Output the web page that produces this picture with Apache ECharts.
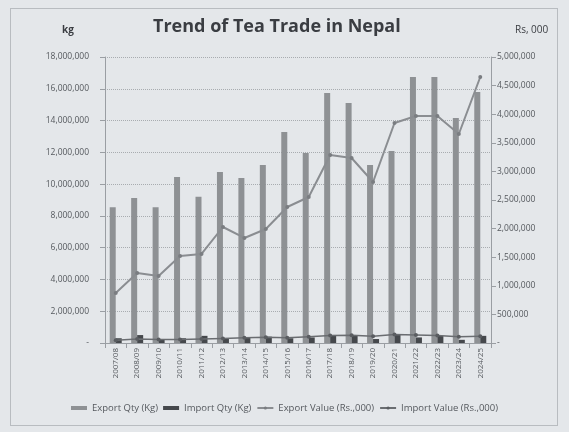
<!DOCTYPE html>
<html><head><meta charset="utf-8">
<script src="https://cdn.jsdelivr.net/npm/echarts@6/dist/echarts.min.js"></script>
<style>
html,body{margin:0;padding:0;background:#e4e7ea;}
#frame{position:absolute;left:10px;top:8px;width:548px;height:418px;border:1px solid #b8bcc0;box-sizing:border-box;}
#c{position:absolute;left:0;top:0;width:569px;height:432px;}
</style></head><body>
<div id="frame"></div>
<div id="c"></div>
<script>
const categories = ['2007/08','2008/09','2009/10','2010/11','2011/12','2012/13','2013/14','2014/15','2015/16','2016/17','2017/18','2018/19','2019/20','2020/21','2021/22','2022/23','2023/24','2024/25'];
const exportQty = [8550000,9120000,8550000,10450000,9200000,10760000,10380000,11200000,13280000,11960000,15730000,15100000,11200000,12080000,16740000,16740000,14160000,15800000];
const importQty = [300000,500000,250000,300000,450000,300000,350000,400000,300000,350000,500000,450000,250000,550000,350000,450000,200000,450000];
const exportValue = [874000,1224000,1171000,1521000,1556000,2028000,1836000,1993000,2378000,2552000,3287000,3234000,2815000,3846000,3969000,3969000,3654000,4650000];
const importValue = [50000,70000,60000,60000,70000,80000,90000,100000,90000,110000,130000,135000,120000,150000,140000,130000,110000,120000];
const leftTicks = {min:0, max:18000000, interval:2000000};
const rightTicks = {min:0, max:5000000, interval:500000};

const fmt = v => v === 0 ? '-' : v.toLocaleString('en-US');
const font = 'Open Sans';
const chart = echarts.init(document.getElementById('c'));
chart.setOption({
  backgroundColor: 'transparent',
  animation: false,
  textStyle: {fontFamily: font},
  title: [
    {text: 'Trend of Tea Trade in Nepal', left: 148, top: 13, textStyle: {fontSize: 18, fontWeight: 'bold', color: '#3a3d42', fontFamily: font}},
    {text: 'kg', left: 57, top: 20, textStyle: {fontSize: 10, fontWeight: 'bold', color: '#3a3d42', fontFamily: font}},
    {text: 'Rs, 000', left: 510, top: 20, textStyle: {fontSize: 10, fontWeight: 'normal', color: '#3a3d42', fontFamily: font}}
  ],
  grid: {left: 105, right: 78, top: 57, bottom: 89},
  legend: {
    bottom: 14, left: 'center', itemGap: 5, itemWidth: 16, itemHeight: 4,
    textStyle: {fontSize: 9.5, color: '#55595e', fontFamily: font},
    data: [
      {name: 'Export Qty (Kg)', icon: 'rect'},
      {name: 'Import Qty (Kg)', icon: 'rect'},
      {name: 'Export Value (Rs.,000)'},
      {name: 'Import Value (Rs.,000)'}
    ]
  },
  xAxis: {
    type: 'category', data: categories,
    axisLine: {lineStyle: {color: '#9a9ea3'}},
    axisTick: {show: true, alignWithLabel: false, lineStyle: {color: '#9a9ea3'}},
    axisLabel: {rotate: 90, fontSize: 8, color: '#55595e', interval: 0, margin: 5}
  },
  yAxis: [
    {type: 'value', min: leftTicks.min, max: leftTicks.max, interval: leftTicks.interval,
     axisLine: {show: true, lineStyle: {color: '#9a9ea3'}},
     axisTick: {show: true, lineStyle: {color: '#9a9ea3'}},
     splitLine: {lineStyle: {color: '#a8acb0', type: 'dotted'}},
     axisLabel: {formatter: fmt, fontSize: 8.5, color: '#55595e', margin: 16}},
    {type: 'value', min: rightTicks.min, max: rightTicks.max, interval: rightTicks.interval,
     axisLine: {show: true, lineStyle: {color: '#9a9ea3'}},
     axisTick: {show: true, lineStyle: {color: '#9a9ea3'}},
     splitLine: {show: false},
     axisLabel: {formatter: fmt, fontSize: 8.5, color: '#55595e', margin: 6}}
  ],
  series: [
    {name: 'Export Qty (Kg)', type: 'bar', data: exportQty, barWidth: 6, barGap: '0%',
     itemStyle: {color: '#8e9194'}},
    {name: 'Import Qty (Kg)', type: 'bar', data: importQty, barWidth: 6,
     itemStyle: {color: '#45484c'}},
    {name: 'Export Value (Rs.,000)', type: 'line', yAxisIndex: 1, data: exportValue,
     symbol: 'circle', symbolSize: 4, lineStyle: {color: '#8a8d91', width: 2},
     itemStyle: {color: '#7a7d81'}},
    {name: 'Import Value (Rs.,000)', type: 'line', yAxisIndex: 1, data: importValue,
     symbol: 'circle', symbolSize: 4, lineStyle: {color: '#6a6d71', width: 1.5},
     itemStyle: {color: '#5a5d61'}}
  ]
});
</script>
</body></html>
